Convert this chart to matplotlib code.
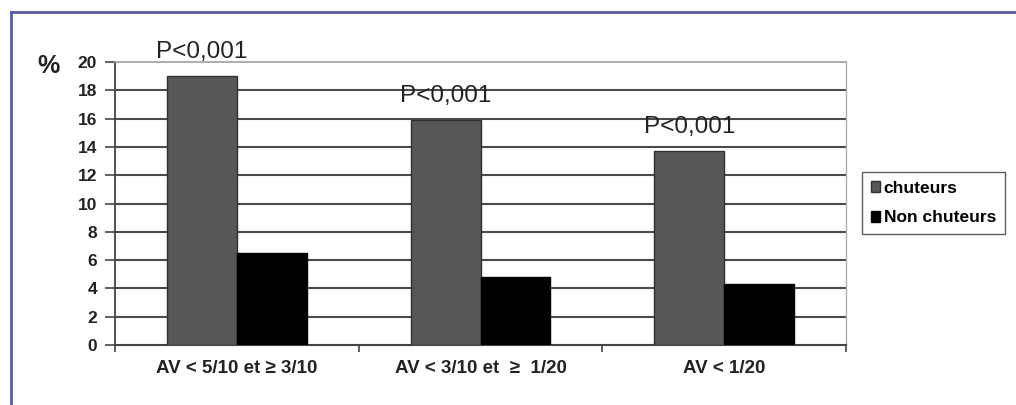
import matplotlib
matplotlib.use("Agg")
import matplotlib.pyplot as plt
from matplotlib.lines import Line2D
import numpy as np

categories = ["AV < 5/10 et ≥ 3/10", "AV < 3/10 et  ≥  1/20", "AV < 1/20"]
chuteurs = [19.0, 15.9, 13.7]
non_chuteurs = [6.5, 4.8, 4.3]
p_labels = ["P<0,001", "P<0,001", "P<0,001"]
series_names = ["chuteurs", "Non chuteurs"]
yticks = list(range(0, 21, 2))

plt.rcParams['font.family'] = ['Liberation Sans', 'DejaVu Sans']

fig = plt.figure(figsize=(10.16, 4.05), dpi=100)
fig.patch.set_facecolor("white")
ax = fig.add_axes([115/1016, 1-345/405, (846-115)/1016, (345-62)/405])

x = np.arange(len(categories))
w = 0.287
ax.bar(x - w/2, chuteurs, w, color="#575757", edgecolor="#303030", linewidth=1.0,
       label=series_names[0], zorder=3)
ax.bar(x + w/2, non_chuteurs, w, color="#000000", edgecolor="#000000", linewidth=1.0,
       label=series_names[1], zorder=3)

for xi, v, lab in zip(x, chuteurs, p_labels):
    ax.text(xi - w/2, v + 0.9, lab, ha="center", va="bottom", fontsize=17.5, color="#222222")

ax.set_xlim(-0.5, 2.5)
ax.set_ylim(0, 20)
ax.set_yticks(yticks)
ax.set_yticklabels([str(t) for t in yticks], fontsize=12.5, fontweight="bold", color="#222222")
ax.set_xticks(x)
ax.set_xticklabels(categories, fontsize=13.5, fontweight="bold", color="#222222")
ax.set_xticks([-0.5, 0.5, 1.5, 2.5], minor=True)
ax.tick_params(axis="x", which="major", length=0, pad=11)
ax.tick_params(axis="x", which="minor", length=5, width=1.2, color="#444444", direction="out")
ax.tick_params(axis="y", which="major", length=7, width=1.2, color="#444444", pad=6)

for t in yticks[1:-1]:
    ax.axhline(t, color="#4a4a4a", linewidth=1.5, zorder=1)

ax.spines["left"].set_color("#444444")
ax.spines["left"].set_linewidth(1.3)
ax.spines["bottom"].set_color("#444444")
ax.spines["bottom"].set_linewidth(1.5)
ax.spines["top"].set_color("#a0a0a0")
ax.spines["top"].set_linewidth(1.2)
ax.spines["right"].set_color("#b0b0b0")
ax.spines["right"].set_linewidth(1.0)

fig.text(48/1016, 1-66/405, "%", fontsize=18, fontweight="bold", color="#222222",
         ha="center", va="center")

leg = ax.legend(loc="upper left", bbox_to_anchor=(862/1016, 1-172/405),
                bbox_transform=fig.transFigure, frameon=True, fancybox=False,
                prop={"size": 12.5, "weight": "bold"}, handlelength=0.55, handleheight=0.55,
                handletextpad=0.2, borderpad=0.5, labelspacing=0.85, borderaxespad=0)
leg.get_frame().set_edgecolor("#333333")
leg.get_frame().set_linewidth(1.0)

# outer frame
fig.add_artist(Line2D([11/1016, 11/1016], [0, 1-12/405], transform=fig.transFigure,
                      color="#5a5aa8", linewidth=2.0))
fig.add_artist(Line2D([11/1016, 1], [1-12/405, 1-12/405], transform=fig.transFigure,
                      color="#5a5aa8", linewidth=2.0))

fig.savefig("out.png", dpi=100, facecolor="white")
